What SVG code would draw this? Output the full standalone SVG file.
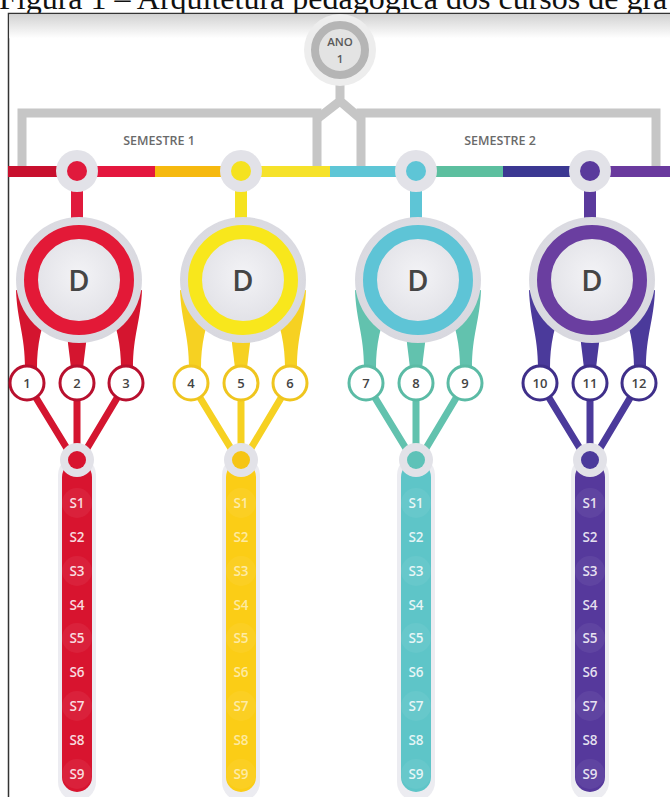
<svg xmlns="http://www.w3.org/2000/svg" width="670" height="797" viewBox="0 0 670 797">
<defs>
<linearGradient id="hdr" x1="0" y1="0" x2="0" y2="1"><stop offset="0" stop-color="#d2d2d2"/><stop offset="1" stop-color="#ffffff"/></linearGradient>
<radialGradient id="inner" cx="0.5" cy="0.45" r="0.6"><stop offset="0" stop-color="#f3f3f6"/><stop offset="1" stop-color="#dedee4"/></radialGradient>
<radialGradient id="halo" cx="0.5" cy="0.45" r="0.55"><stop offset="0" stop-color="#e6e6eb"/><stop offset="1" stop-color="#d8d8df"/></radialGradient>
</defs>
<style>
.cap{font-family:"Liberation Serif","Times New Roman",serif;font-size:32px;fill:#111}
.sem{font-family:"Open Sans","Liberation Sans",sans-serif;font-size:12.5px;font-weight:600;fill:#6a6a6a;text-anchor:middle}
.ano{font-family:"Open Sans","Liberation Sans",sans-serif;font-size:11.5px;font-weight:600;fill:#5a5a5a;text-anchor:middle}
.d{font-family:"Open Sans","Liberation Sans",sans-serif;font-size:29px;font-weight:600;fill:#454545;text-anchor:middle}
.num{font-family:"Open Sans","Liberation Sans",sans-serif;font-size:13px;font-weight:600;fill:#444;text-anchor:middle}
.s{font-family:"Open Sans","Liberation Sans",sans-serif;font-size:13.5px;font-weight:600;fill:#fff;fill-opacity:.85;text-anchor:middle}
.gray{fill:none;stroke:#c6c6c6;stroke-width:9}
.dhalo{fill:url(#halo)}
.core{fill:url(#inner)}
.nhalo{fill:#e2e2e8}
.bhalo{fill:#ececf1}
.sc{fill:#fff;stroke-width:3}
.fan{stroke-width:7;fill:none}
.sc2{fill:#fff;fill-opacity:.06}
</style>

<text x="-1" y="9" class="cap">Figura 1 – Arquitetura pedagógica dos cursos de gra</text>
<rect x="8.5" y="13.5" width="670" height="800" fill="#fff" stroke="#333" stroke-width="1.5"/>
<rect x="9.25" y="14.25" width="661" height="24" fill="url(#hdr)"/>

<g id="connectors">
  <path class="gray" d="M22 167 V113 H317 V167"/>
  <path class="gray" d="M361 167 V113 H656 V167"/>
  <path class="gray" d="M340 78 V101 L317 119 M340 101 L361 119" stroke-width="8"/>
  <rect x="8" y="166" width="69" height="11" fill="#c8102e"/>
  <rect x="77" y="166" width="78" height="11" fill="#e4173e"/>
  <rect x="155" y="166" width="86" height="11" fill="#f6b90f"/>
  <rect x="241" y="166" width="89" height="11" fill="#f6e22a"/>
  <rect x="330" y="166" width="86" height="11" fill="#5ec6d6"/>
  <rect x="416" y="166" width="87" height="11" fill="#5cbf9f"/>
  <rect x="503" y="166" width="87" height="11" fill="#3b3892"/>
  <rect x="590" y="166" width="80" height="11" fill="#6a3a9e"/>
  <rect x="71" y="171" width="12" height="60" fill="#e01a3c"/>
  <rect x="235" y="171" width="12" height="60" fill="#f5e21f"/>
  <rect x="410" y="171" width="12" height="60" fill="#5ec5d6"/>
  <rect x="584" y="171" width="12" height="60" fill="#5a3a9c"/>
  <g fill="#d4152f">
    <path d="M16 290 C17 320 25 335 25 368 L37 368 C37 345 41 325 52 300 Z"/>
    <path d="M142 290 C141 320 133 335 133 368 L121 368 C121 345 117 325 106 300 Z"/>
    <path d="M67 335 L87 335 L83 368 L71 368 Z"/>
  </g>
  <g fill="#f6d122">
    <path d="M180 290 C181 320 189 335 189 368 L201 368 C201 345 205 325 216 300 Z"/>
    <path d="M306 290 C305 320 297 335 297 368 L285 368 C285 345 281 325 270 300 Z"/>
    <path d="M231 335 L251 335 L247 368 L235 368 Z"/>
  </g>
  <g fill="#62c2ae">
    <path d="M355 290 C356 320 364 335 364 368 L376 368 C376 345 380 325 391 300 Z"/>
    <path d="M481 290 C480 320 472 335 472 368 L460 368 C460 345 456 325 445 300 Z"/>
    <path d="M406 335 L426 335 L422 368 L410 368 Z"/>
  </g>
  <g fill="#4b3a9b">
    <path d="M529 290 C530 320 538 335 538 368 L550 368 C550 345 554 325 565 300 Z"/>
    <path d="M655 290 C654 320 646 335 646 368 L634 368 C634 345 630 325 619 300 Z"/>
    <path d="M580 335 L600 335 L596 368 L584 368 Z"/>
  </g>
  <g class="fan" stroke="#d4152f"><path d="M27 383 L74 460 M77 383 V460 M126 383 L80 460"/></g>
  <g class="fan" stroke="#f6d122"><path d="M191 383 L238 460 M241 383 V460 M290 383 L244 460"/></g>
  <g class="fan" stroke="#62c2ae"><path d="M366 383 L413 460 M416 383 V460 M465 383 L419 460"/></g>
  <g class="fan" stroke="#4b3a9b"><path d="M540 383 L587 460 M590 383 V460 M639 383 L593 460"/></g>
</g>

<g id="ano">
  <circle cx="340" cy="50" r="36" fill="#ededed"/>
  <circle cx="340" cy="50" r="25" fill="#e3e3e3" stroke="#b5b5b5" stroke-width="8"/>
  <text x="340" y="46" class="ano">ANO</text>
  <text x="340" y="63" class="ano">1</text>
</g>
<g id="semestre1"><text x="159" y="145" class="sem">SEMESTRE 1</text></g>
<g id="semestre2"><text x="500" y="145" class="sem">SEMESTRE 2</text></g>

<g id="t1"><circle cx="77" cy="171" r="21" class="nhalo"/><circle cx="77" cy="171" r="10" fill="#e01a3c"/></g>
<g id="t2"><circle cx="241" cy="171" r="21" class="nhalo"/><circle cx="241" cy="171" r="10" fill="#f5e21f"/></g>
<g id="t3"><circle cx="416" cy="171" r="21" class="nhalo"/><circle cx="416" cy="171" r="10" fill="#5ec5d6"/></g>
<g id="t4"><circle cx="590" cy="171" r="21" class="nhalo"/><circle cx="590" cy="171" r="10" fill="#5a3a9c"/></g>

<g id="d1"><circle cx="79" cy="280" r="63" class="dhalo"/><circle cx="79" cy="280" r="48" class="core" stroke="#e31937" stroke-width="14"/><text x="79" y="291" class="d">D</text></g>
<g id="d2"><circle cx="243" cy="280" r="63" class="dhalo"/><circle cx="243" cy="280" r="48" class="core" stroke="#f8e71c" stroke-width="14"/><text x="243" y="291" class="d">D</text></g>
<g id="d3"><circle cx="418" cy="280" r="63" class="dhalo"/><circle cx="418" cy="280" r="48" class="core" stroke="#5ec4d6" stroke-width="14"/><text x="418" y="291" class="d">D</text></g>
<g id="d4"><circle cx="592" cy="280" r="63" class="dhalo"/><circle cx="592" cy="280" r="48" class="core" stroke="#6a3ea0" stroke-width="14"/><text x="592" y="291" class="d">D</text></g>

<g id="n1"><circle cx="27" cy="383" r="17" class="sc" stroke="#b8102e"/><text x="27" y="388" class="num">1</text></g>
<g id="n2"><circle cx="77" cy="383" r="17" class="sc" stroke="#b8102e"/><text x="77" y="388" class="num">2</text></g>
<g id="n3"><circle cx="126" cy="383" r="17" class="sc" stroke="#b8102e"/><text x="126" y="388" class="num">3</text></g>
<g id="n4"><circle cx="191" cy="383" r="17" class="sc" stroke="#efc51e"/><text x="191" y="388" class="num">4</text></g>
<g id="n5"><circle cx="241" cy="383" r="17" class="sc" stroke="#efc51e"/><text x="241" y="388" class="num">5</text></g>
<g id="n6"><circle cx="290" cy="383" r="17" class="sc" stroke="#efc51e"/><text x="290" y="388" class="num">6</text></g>
<g id="n7"><circle cx="366" cy="383" r="17" class="sc" stroke="#5bbba5"/><text x="366" y="388" class="num">7</text></g>
<g id="n8"><circle cx="416" cy="383" r="17" class="sc" stroke="#5bbba5"/><text x="416" y="388" class="num">8</text></g>
<g id="n9"><circle cx="465" cy="383" r="17" class="sc" stroke="#5bbba5"/><text x="465" y="388" class="num">9</text></g>
<g id="n10"><circle cx="540" cy="383" r="17" class="sc" stroke="#3f2f8a" stroke-width="3.5"/><text x="540" y="388" class="num">10</text></g>
<g id="n11"><circle cx="590" cy="383" r="17" class="sc" stroke="#3f2f8a" stroke-width="3.5"/><text x="590" y="388" class="num">11</text></g>
<g id="n12"><circle cx="639" cy="383" r="17" class="sc" stroke="#3f2f8a" stroke-width="3.5"/><text x="639" y="388" class="num">12</text></g>

<g id="bar1">
  <rect x="58" y="456" width="38" height="345" rx="19" class="bhalo"/>
  <rect x="62" y="462" width="30" height="330" rx="15" fill="#d8142f"/>
  <g class="sc2"><circle cx="77" cy="503" r="15"/><circle cx="77" cy="571" r="15"/><circle cx="77" cy="638" r="15"/><circle cx="77" cy="706" r="15"/><circle cx="77" cy="774" r="15"/></g>
  <circle cx="77" cy="460" r="17" class="nhalo"/><circle cx="77" cy="460" r="9" fill="#d8142f"/>
  <g class="s"><text x="77" y="508">S1</text><text x="77" y="542">S2</text><text x="77" y="576">S3</text><text x="77" y="610">S4</text><text x="77" y="643">S5</text><text x="77" y="677">S6</text><text x="77" y="711">S7</text><text x="77" y="745">S8</text><text x="77" y="779">S9</text></g>
</g>
<g id="bar2">
  <rect x="222" y="456" width="38" height="345" rx="19" class="bhalo"/>
  <rect x="226" y="462" width="30" height="330" rx="15" fill="#fbcd16"/>
  <g class="sc2"><circle cx="241" cy="503" r="15"/><circle cx="241" cy="571" r="15"/><circle cx="241" cy="638" r="15"/><circle cx="241" cy="706" r="15"/><circle cx="241" cy="774" r="15"/></g>
  <circle cx="241" cy="460" r="17" class="nhalo"/><circle cx="241" cy="460" r="9" fill="#f6c515"/>
  <g class="s" style="fill-opacity:.6"><text x="241" y="508">S1</text><text x="241" y="542">S2</text><text x="241" y="576">S3</text><text x="241" y="610">S4</text><text x="241" y="643">S5</text><text x="241" y="677">S6</text><text x="241" y="711">S7</text><text x="241" y="745">S8</text><text x="241" y="779">S9</text></g>
</g>
<g id="bar3">
  <rect x="397" y="456" width="38" height="345" rx="19" class="bhalo"/>
  <rect x="401" y="462" width="30" height="330" rx="15" fill="#5ec5c8"/>
  <g class="sc2"><circle cx="416" cy="503" r="15"/><circle cx="416" cy="571" r="15"/><circle cx="416" cy="638" r="15"/><circle cx="416" cy="706" r="15"/><circle cx="416" cy="774" r="15"/></g>
  <circle cx="416" cy="460" r="17" class="nhalo"/><circle cx="416" cy="460" r="9" fill="#5ec2b8"/>
  <g class="s"><text x="416" y="508">S1</text><text x="416" y="542">S2</text><text x="416" y="576">S3</text><text x="416" y="610">S4</text><text x="416" y="643">S5</text><text x="416" y="677">S6</text><text x="416" y="711">S7</text><text x="416" y="745">S8</text><text x="416" y="779">S9</text></g>
</g>
<g id="bar4">
  <rect x="571" y="456" width="38" height="345" rx="19" class="bhalo"/>
  <rect x="575" y="462" width="30" height="330" rx="15" fill="#56399c"/>
  <g class="sc2"><circle cx="590" cy="503" r="15"/><circle cx="590" cy="571" r="15"/><circle cx="590" cy="638" r="15"/><circle cx="590" cy="706" r="15"/><circle cx="590" cy="774" r="15"/></g>
  <circle cx="590" cy="460" r="17" class="nhalo"/><circle cx="590" cy="460" r="9" fill="#4b3a9b"/>
  <g class="s"><text x="590" y="508">S1</text><text x="590" y="542">S2</text><text x="590" y="576">S3</text><text x="590" y="610">S4</text><text x="590" y="643">S5</text><text x="590" y="677">S6</text><text x="590" y="711">S7</text><text x="590" y="745">S8</text><text x="590" y="779">S9</text></g>
</g>
</svg>
